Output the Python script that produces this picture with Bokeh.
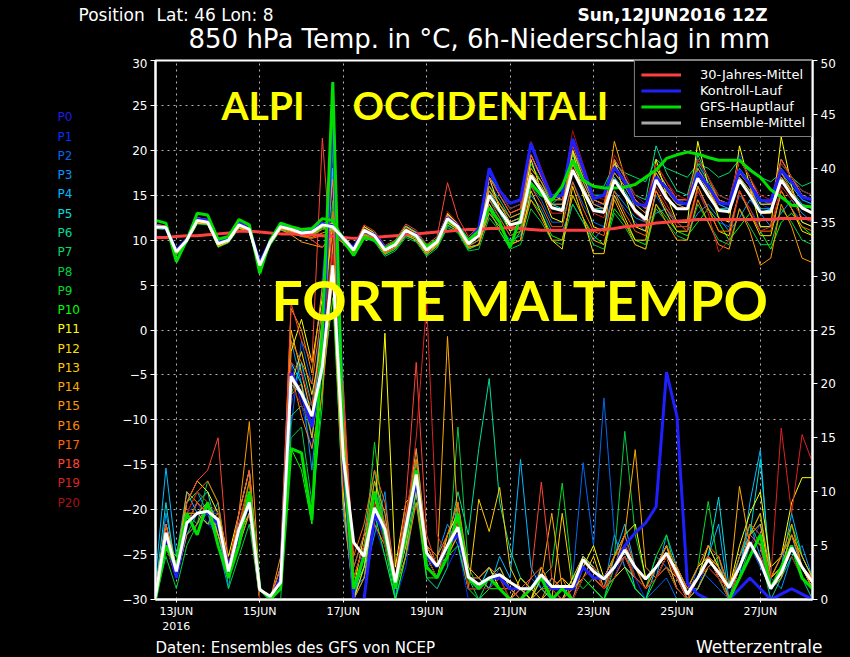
from bokeh.plotting import figure
from bokeh.layouts import column, row
from bokeh.models import Range1d, LinearAxis, FixedTicker, Label, Legend, LegendItem
from bokeh.embed import file_html
from bokeh.resources import INLINE

# ---------------- data ----------------
step_hours = 6
n_steps = 64
hours = [step_hours * i for i in range(n_steps)]          # from 12JUN2016 12Z
tick_hours = [12, 60, 108, 156, 204, 252, 300, 348]
tick_labels = ["13JUN\n2016", "15JUN", "17JUN", "19JUN", "21JUN", "23JUN", "25JUN", "27JUN"]
temp_ticks = [-30, -25, -20, -15, -10, -5, 0, 5, 10, 15, 20, 25, 30]
prec_ticks = [0, 5, 10, 15, 20, 25, 30, 35, 40, 45, 50]

member_names = ["P%d" % k for k in range(21)]
member_colors = ["#1e1ee6", "#0033ff", "#0066ee", "#0099ff", "#00bbff", "#00dddd", "#00dd99",
                 "#00dd66", "#00cc44", "#00dd22", "#00ff00", "#ffff00", "#ffdd00", "#ffcc00",
                 "#ffaa00", "#ff9900", "#ff8800", "#ff6600", "#ff4433", "#dd2222", "#aa1111"]

temp_clim = [10.3,10.3,10.4,10.5,10.5,10.6,10.7,10.8,11.0,11.0,
             10.9,10.8,10.7,10.7,10.6,10.6,10.5,10.4,10.3,10.2,
             10.2,10.3,10.4,10.5,10.6,10.7,10.8,10.9,11.0,11.1,
             11.2,11.2,11.3,11.3,11.4,11.3,11.2,11.1,11.1,11.1,
             11.1,11.1,11.1,11.2,11.3,11.5,11.6,11.7,11.9,12.0,
             12.1,12.2,12.3,12.3,12.3,12.3,12.3,12.3,12.3,12.3,
             12.4,12.4,12.4,12.4]
temp_mean = [11.5,11.4,8.7,10.0,12.2,12.0,9.6,10.0,11.7,11.2,7.2,9.8,11.5,11.2,10.8,10.9,11.7,
             11.5,10.2,8.9,11.1,10.5,8.9,9.5,11.1,10.5,8.9,9.8,12.4,11.5,9.6,
             10.5,15.0,13.3,11.7,12.0,17.2,15.5,13.6,13.3,17.8,15.5,13.3,13.1,16.7,15.0,13.3,12.3,
             16.7,14.7,13.5,13.5,16.9,15.0,13.3,13.2,16.7,15.0,13.1,13.2,16.7,15.0,13.6,13.0]
temp_ctrl = [11.6,11.3,8.9,10.1,12.4,12.2,9.8,10.1,11.9,11.3,7.5,9.9,11.6,11.3,10.9,11.0,11.9,
             11.6,10.0,9.2,11.0,10.6,9.2,9.6,11.0,10.6,9.0,10.0,12.5,11.6,10.0,
             11.3,18.0,15.5,14.1,14.5,20.8,17.5,14.8,15.0,21.3,18.0,14.6,15.0,18.1,16.5,14.1,13.8,
             17.0,15.8,14.3,14.0,17.5,16.0,14.2,14.0,17.8,16.2,14.4,14.3,17.8,16.5,14.8,14.5]
temp_gfs = [12.2,11.9,7.6,10.0,13.0,12.8,10.1,10.4,12.3,11.7,6.3,10.0,11.9,11.5,11.2,11.3,12.4,
            12.2,10.0,8.3,10.3,10.0,9.1,9.8,11.1,10.4,9.3,10.0,12.2,11.5,10.0,
            11.0,13.6,12.0,9.2,12.5,16.3,15.0,14.4,16.0,18.9,16.7,16.0,15.8,15.8,15.9,16.2,17.0,
            17.8,19.1,19.5,19.8,19.6,19.2,18.9,18.9,18.9,17.8,17.0,15.6,14.8,13.9,13.8,13.7]

temp_p0 = [11.6,11.3,8.8,10.1,12.3,12.1,9.7,10.1,11.8,11.2,7.4,9.9,11.6,11.2,10.9,11.0,11.8,
           11.6,10.3,9.0,11.3,10.7,9.1,9.6,11.3,10.6,9.2,10.0,12.8,11.6,9.8,
           11.0,16.5,14.5,12.5,13.0,19.0,17.0,14.5,14.5,20.0,17.0,14.0,14.0,18.5,16.5,14.0,13.0,
           17.0,15.5,14.0,14.0,18.5,16.0,14.0,13.5,18.0,16.0,14.0,13.5,17.5,16.0,14.5,14.0]
temp_p1 = [11.4,11.5,8.6,9.9,12.1,12.0,9.5,10.0,11.6,11.1,7.1,9.7,11.4,11.1,10.7,10.9,11.6,
           11.4,10.2,8.8,11.0,10.4,8.8,9.4,11.0,10.4,8.8,9.7,12.3,11.4,9.5,
           11.5,17.5,15.0,13.5,14.0,20.5,17.5,15.0,15.5,21.0,17.5,15.0,15.0,19.0,17.0,14.5,13.5,
           18.0,16.0,14.5,14.5,19.0,16.5,14.5,14.0,19.5,17.0,14.5,14.5,19.0,17.0,15.5,15.0]
temp_p2 = [11.5,11.4,8.5,10.0,12.0,11.9,9.4,9.9,11.5,11.0,7.0,9.6,11.3,11.0,10.6,10.7,11.5,
           11.3,10.0,8.7,10.8,10.3,8.6,9.2,10.8,10.2,8.6,9.5,12.0,11.2,9.3,
           10.0,14.0,12.5,10.5,11.0,16.0,14.5,12.0,12.0,16.5,14.0,12.0,11.5,15.0,13.5,12.0,11.0,
           15.0,13.0,12.0,12.0,15.5,13.5,12.0,11.5,15.0,13.5,11.5,11.5,15.0,13.5,12.0,11.5]
temp_p3 = [11.3,11.2,8.4,9.8,11.9,11.8,9.3,9.8,11.4,10.9,6.9,9.5,11.2,10.9,10.5,10.6,11.4,
           11.2,9.8,8.5,10.6,10.0,8.4,9.0,10.5,10.0,8.4,9.3,11.6,11.0,9.0,
           9.5,13.0,11.5,10.0,10.5,15.0,13.5,11.0,11.0,14.0,12.0,10.0,11.5,15.5,14.0,12.5,12.0,
           13.0,13.5,12.0,11.0,13.0,14.0,12.5,11.0,12.5,14.5,13.0,11.5,13.0,14.5,13.0,12.0]
temp_p4 = [11.6,11.5,8.8,10.1,12.3,12.1,9.7,10.1,11.7,11.2,7.3,9.8,11.6,11.3,10.9,11.0,11.7,
           11.6,10.3,9.1,11.2,10.6,9.0,9.6,11.2,10.6,9.0,9.9,12.6,11.6,9.7,
           11.0,16.0,14.0,12.0,12.5,18.0,16.5,14.0,14.0,19.0,16.5,14.0,13.5,17.5,16.0,14.0,13.0,
           17.5,15.5,14.0,14.0,18.0,16.0,14.0,13.5,17.5,16.0,13.5,13.5,17.5,16.0,14.5,14.0]
temp_p5 = [11.7,11.6,8.9,10.2,12.5,12.3,9.8,10.2,12.0,11.4,7.5,10.0,11.7,11.4,11.0,11.1,11.9,
           11.7,10.5,9.2,11.5,10.8,9.3,9.8,11.6,10.9,9.3,10.2,12.9,11.8,10.0,
           11.0,15.5,13.5,12.0,12.5,17.5,16.0,14.0,13.5,18.5,16.0,13.5,13.5,17.0,15.5,13.5,12.5,
           17.0,15.0,13.5,13.5,17.5,15.5,13.5,13.5,17.0,15.5,13.0,13.5,17.0,15.5,14.0,13.5]
temp_p6 = [11.5,11.3,8.6,10.0,12.2,12.0,9.6,10.0,11.7,11.1,7.2,9.8,11.5,11.2,10.8,10.9,11.7,
           11.5,10.2,9.0,11.1,10.5,8.9,9.5,11.1,10.5,8.9,9.8,12.4,11.5,9.6,
           11.5,17.0,15.5,13.5,14.0,19.5,17.0,15.0,15.0,20.0,17.5,15.0,15.0,19.0,17.0,15.0,14.5,
           20.5,17.5,15.5,15.0,19.5,17.0,15.0,14.5,19.0,17.0,14.5,14.0,18.5,17.0,15.5,15.0]
temp_p7 = [11.4,11.4,8.6,9.9,12.1,11.9,9.5,9.9,11.6,11.1,7.1,9.7,11.4,11.1,10.7,10.8,11.6,
           11.4,10.0,8.8,10.9,10.4,8.8,9.4,10.9,10.4,8.8,9.7,12.2,11.4,9.4,
           10.0,14.5,13.0,11.0,11.5,16.5,15.0,14.0,15.0,17.5,16.5,16.0,16.0,18.5,17.5,17.0,16.5,
           19.0,18.0,17.5,17.0,18.5,18.0,17.0,17.5,19.0,18.0,17.0,16.5,17.5,17.0,16.0,16.5]
temp_p8 = [11.3,11.2,8.3,9.7,11.8,11.7,9.2,9.7,11.3,10.8,6.8,9.4,11.1,10.8,10.4,10.5,11.3,
           11.1,9.6,8.3,10.4,9.8,8.2,8.8,10.3,9.8,8.2,9.1,11.4,10.8,8.8,
           9.0,12.5,11.0,9.0,9.5,13.5,12.0,10.0,9.5,14.0,12.0,9.5,9.0,13.0,11.5,9.5,9.0,
           13.5,12.0,10.5,10.0,14.0,12.0,10.0,9.5,13.5,11.5,9.5,9.5,13.5,12.0,10.0,9.5]
temp_p9 = [11.6,11.5,8.7,10.1,12.3,12.1,9.7,10.1,11.8,11.3,7.3,9.9,11.6,11.3,10.9,11.0,11.8,
           11.6,10.3,9.0,11.2,10.6,9.0,9.6,11.2,10.6,9.0,9.9,12.6,11.6,9.7,
           11.0,16.0,14.5,12.5,13.0,18.5,16.5,14.5,14.5,19.5,17.0,14.5,14.0,18.0,16.5,14.5,13.5,
           18.0,16.0,14.5,14.0,18.5,16.5,14.5,14.0,18.0,16.5,14.0,14.0,18.0,16.5,15.0,14.5]
temp_p10 = [11.4,11.2,8.4,9.8,11.9,11.8,9.3,9.8,11.4,10.9,6.9,9.5,11.2,10.9,10.5,10.6,11.4,
            11.2,9.8,8.5,10.6,10.0,8.4,9.0,10.5,10.0,8.4,9.3,11.7,11.0,9.0,
            9.5,13.5,11.0,9.2,11.0,14.5,13.0,10.5,10.0,15.0,12.5,10.5,9.5,13.5,12.0,10.0,9.5,
            14.0,12.5,11.0,10.5,12.0,13.5,12.0,10.0,11.5,13.0,11.0,9.0,12.0,13.0,11.5,10.5]
temp_p11 = [11.7,11.6,8.9,10.2,12.5,12.2,9.8,10.2,12.0,11.4,7.5,10.0,11.8,11.5,11.1,11.2,12.0,
            11.8,10.4,9.1,11.5,10.8,9.2,9.8,11.5,10.8,9.2,10.2,13.0,11.8,9.8,
            10.5,17.0,13.5,11.0,12.0,19.0,15.5,12.5,12.0,20.0,15.0,11.5,11.0,19.0,15.0,11.5,11.0,
            19.0,15.0,12.0,12.0,21.0,16.0,12.5,12.0,20.5,16.0,11.5,11.5,21.5,16.0,12.0,11.5]
temp_p12 = [11.3,11.3,8.5,9.8,11.9,11.8,9.3,9.8,11.4,10.9,6.9,9.6,11.3,11.0,10.6,10.7,11.5,
            11.3,9.9,8.6,10.7,10.2,8.6,9.2,10.7,10.2,8.6,9.5,11.9,11.2,9.2,
            9.5,14.0,12.0,9.5,10.0,15.5,13.0,10.0,9.0,16.0,12.5,8.5,8.5,15.0,12.5,10.0,10.0,
            15.5,13.0,11.0,11.0,16.0,13.5,11.0,10.5,15.5,13.0,10.5,10.5,15.5,13.5,11.0,10.5]
temp_p13 = [11.6,11.4,8.8,10.1,12.4,12.2,9.7,10.1,11.9,11.3,7.4,9.9,11.7,11.4,11.0,11.1,11.9,
            11.7,10.4,9.1,11.3,10.7,9.1,9.7,11.4,10.8,9.2,10.1,12.9,11.8,9.8,
            11.0,17.0,15.0,13.0,13.5,19.5,17.0,15.0,14.5,20.0,17.0,14.5,14.0,18.5,16.5,14.5,13.5,
            18.0,16.0,14.5,14.5,19.0,17.0,14.5,14.0,19.0,17.0,14.0,14.0,19.0,17.0,15.0,14.5]
temp_p14 = [11.5,11.4,8.6,10.0,12.2,12.0,9.6,10.0,11.7,11.2,7.2,9.8,11.5,11.0,10.5,10.3,10.8,
            11.2,10.0,8.9,11.0,10.5,8.9,9.5,11.1,10.6,9.0,9.9,12.7,11.6,9.6,
            10.5,15.5,14.0,12.0,12.5,17.5,16.0,13.5,13.5,18.5,16.0,13.5,13.0,21.0,17.0,13.5,12.5,
            17.0,15.0,13.5,13.5,17.5,15.5,13.5,13.0,17.0,15.5,13.0,13.0,17.0,15.5,13.5,13.0]
temp_p15 = [11.4,11.3,8.5,9.9,12.0,11.8,9.4,9.9,11.5,11.0,7.0,9.6,11.2,10.6,9.8,9.5,9.2,
            10.5,9.7,8.5,10.5,10.0,8.5,9.2,10.6,10.0,8.4,9.4,12.0,11.1,9.2,
            9.5,13.0,11.5,9.5,10.0,14.5,12.5,10.0,10.0,15.0,12.5,10.0,9.5,14.5,12.0,9.5,9.0,
            14.0,12.0,10.0,10.0,14.5,12.0,9.5,9.0,13.5,11.0,7.2,8.0,14.0,11.5,8.0,7.5]
temp_p16 = [11.6,11.5,8.7,10.1,12.3,12.1,9.7,10.1,11.8,11.2,7.3,9.9,11.6,11.1,10.6,10.5,11.2,
            11.4,10.2,9.0,11.2,10.7,9.1,9.7,11.3,10.7,9.1,10.0,12.8,11.7,9.8,
            11.0,16.0,14.0,12.5,13.0,18.0,16.5,14.0,14.0,19.0,16.5,14.0,13.5,17.5,16.0,14.0,13.0,
            17.5,15.5,14.0,13.5,18.0,16.0,13.5,13.0,17.5,16.0,13.0,13.0,17.5,15.5,13.5,13.0]
temp_p17 = [11.4,11.3,8.5,9.9,12.0,11.9,9.4,9.9,11.5,11.0,7.0,9.7,11.3,10.9,10.4,10.2,10.5,
            11.0,9.8,8.7,10.7,10.2,8.6,9.2,10.8,10.3,8.7,9.6,12.1,11.3,9.3,
            10.0,14.5,12.5,10.5,11.0,16.0,14.0,11.5,11.5,16.5,13.5,11.0,10.5,15.5,13.0,11.0,10.5,
            15.5,13.5,11.5,11.5,16.0,13.5,11.0,11.0,15.5,13.0,11.0,11.0,15.5,13.5,11.5,11.0]
temp_p18 = [11.7,11.6,8.9,10.3,12.5,12.3,9.9,10.3,12.0,11.5,7.6,10.1,11.8,11.4,10.8,10.0,9.2,
            10.8,10.3,9.3,11.7,11.0,9.4,10.0,11.8,11.1,9.5,10.4,16.4,12.5,10.4,
            11.5,17.0,15.0,13.0,13.5,19.5,17.0,14.5,14.5,20.5,17.5,14.5,14.0,19.0,17.0,14.5,13.5,
            18.5,16.5,14.5,14.5,19.0,17.0,14.5,14.0,19.0,17.0,14.5,14.0,19.0,17.0,15.0,14.5]
temp_p19 = [11.5,11.4,8.6,10.0,12.1,12.0,9.5,10.0,11.6,11.1,7.1,9.8,11.4,11.1,10.7,10.8,11.6,
            11.4,10.0,8.9,11.0,10.4,8.8,9.4,11.0,10.4,8.8,9.7,12.3,11.4,9.5,
            10.5,15.0,13.5,11.5,12.0,17.0,15.5,13.0,13.0,18.0,15.5,13.0,12.5,16.5,15.0,13.0,12.0,
            16.0,14.0,12.0,11.0,15.5,13.0,8.7,10.0,15.5,13.5,11.0,11.5,16.0,14.5,12.5,12.0]
temp_p20 = [11.6,11.5,8.8,10.2,12.4,12.2,9.8,10.2,11.9,11.4,7.5,10.0,11.7,11.3,10.9,11.0,11.8,
            11.6,10.2,9.1,11.3,10.7,9.1,9.7,11.4,10.7,9.1,10.0,13.2,11.9,9.9,
            11.5,18.0,15.5,13.5,14.0,21.0,18.0,15.0,15.0,22.2,18.5,15.0,14.5,19.5,17.5,15.0,14.0,
            18.5,16.5,15.0,14.5,19.0,17.0,15.0,14.5,19.0,17.0,15.0,14.5,18.5,17.0,15.5,15.0]

prec_mean = [0.3,6.2,2.6,7.1,8.0,8.2,7.4,2.6,6.5,9.0,
             0.9,0.3,1.6,20.7,19.1,17.0,21.6,31.0,13.3,5.3,
             4.0,8.5,6.5,1.6,6.6,11.6,4.3,3.1,5.0,6.7,
             2.1,1.4,2.0,2.3,1.6,1.0,1.0,2.3,1.2,1.2,
             1.2,3.7,2.6,1.9,3.0,4.6,3.0,1.9,3.0,4.3,
             2.5,0.5,2.0,3.7,2.5,1.1,3.0,5.3,3.5,1.0,
             2.5,4.8,3.0,1.6]
prec_ctrl = [0,6,2,7,8,8,7,3,6,9,1,0,2, 21,19,16,22,
             45.8,13,0,0,8,6,1,6,11,4,3,5,6,2,
             1,2,2,1,1,1,2,1,1,1,3,2,2,3,5,6.2,7.1,
             8.6,21.1,17.0,1.5,0.5,0,0,0,1,2,1,0,0.5,1,0.5,0]
prec_gfs = [0,5,3,8,6,9,5,2,5,10,1,0,1, 14,13.6,7.4,25,
            48,14,1,4,10,6,1,6,12,3,2,4,8,2,
            1,2,1,0,0,1,2,0,1,0,0,0,0,0,0,0,0,
            0,0,0,0,0,0,0,0,2,4,6,1,3,5,2,1]

prec_p0 = [0,5,2,8,9,7,6,2,7,10,1,0,2, 18,22,15,24, 38,12,0,3,9,5,1,5,12,3,2,4,6,1,
           1,2,1,0,0,1,3,1,0,0,4,3,1,2,5,2,1, 2,4,1,0,2,5,3,1,3,6,5,0,2,5,3,1]
prec_p1 = [1,6,3,7,8,9,7,3,6,9,0,0,1, 22,18,14,30, 40,20,0,0,7,4,0,3,10,2,1,3,5,0,
           0,1,2,0,1,0,2,0,1,0,3,2,1,4,6,2,0, 3,5,2,0,1,4,2,0,2,5,7,1,3,6,2,0]
prec_p2 = [0,7,2,6,7,8,8,2,5,8,1,0,1, 16,24,20,20, 35,15,0,5,10,8,2,7,14,5,3,6,8,2,
           2,1,3,1,0,2,1,0,0,2,12.7,5,18.7,6,3,1,0, 1,2,0,0,3,2,1,0,4,5,3,1,2,4,2,1]
prec_p3 = [0,8,3,9,10,8,5,1,8,12,1,0,3, 24,20,12,22, 30,8,1,2,6,10,0,8,10,3,4,7,5,1,
           1,3,2,1,0,0,1,2,1,0,2,3,1,6,3,2,1, 4,3,2,1,1,3,4,0,3,7,4,2,1,4,5,2]
prec_p4 = [2,12.2,4,10,8,7,9,3,6,10,0,0,2, 20,19,18,26, 36,10,0,4,8,6,1,6,11,4,2,5,7,3,
           2,1,4,2,13,3,1,0,1,1,3,2,2,4,7,3,1, 2,6,3,1,2,4,7,0,2,9,13.9,1,3,8,4,2]
prec_p5 = [1,9,2,7,9,10,6,2,7,9,1,0,1, 22,20,16,25, 40,14,0,2,9,7,1,5,13,5,3,4,9,2,
           1,3,1,0,1,0,2,1,0,1,4,3,2,3,5,1,0, 3,5,2,1,2,4,9.5,1,4,6,13,2,4,6,3,1]
prec_p6 = [0,6,3,8,7,9,8,3,6,10,0,0,2, 19,22,18,23, 33,16,3,6,12,6,2,6,11,4,3,5,10,6,
           14,20.5,9,4.6,2,1,0,0,1,0,2,1,0,3,4,2,1, 2,3,1,0,1,3,2,0,3,5,4,1,2,5,3,1]
prec_p7 = [1,5,2,6,8,7,7,2,5,8,1,0,1, 17,18,16,21, 42,13,1,3,10,5,0,4,12,3,2,5,6,2,
           0,2,1,0,0,1,2,1,0,2,3,2,1,2,4,2,1, 2,4,3,0,2,5,3,1,2,4,6,1,3,5,2,1]
prec_p8 = [0,4,1,5,7,11,9,1,4,7,0,0,0, 15,16,9,18, 44,18,2,5,11,7,1,6,9,2,1,3,16,3,
           1,2,2,1,0,0,1,0,1,0,2,1,0,4,15.6,6,2, 3,5,2,0,1,3,2,0,2,5,4,0,2,4,2,0]
prec_p9 = [1,6,2,7,8,8,6,3,7,9,1,0,2, 21,19,15,22, 37,12,1,4,14.6,6,2,7,13,4,3,5,7,2,
           1,2,3,1,1,0,2,3,10.8,2,1,2,1,3,5,2,1, 4,6,2,1,3,9.1,3,1,4,7,5,1,3,6,3,1]
prec_p10 = [0,5,4,9,10,9,7,2,6,11,1,0,1, 14,12,7,20, 28,9,0,3,8,4,0,4,10,2,2,4,5,1,
            0,1,1,0,0,1,0,0,0,1,2,1,0,2,3,1,0, 2,3,1,0,2,4,2,0,3,6,8,1,2,7,4,2]
prec_p11 = [1,7,3,9,11,10,8,4,8,12,1,0,3, 23,26,22,28, 34,10,1,6,7,24.7,3,9,10,4,2,6,8,3,
            2,3,1,0,2,1,0,1,2,1,3,5,2,4,6,7,2, 3,5,2,1,3,4,2,1,5,8,10,3,4,9,11.3,11.3]
prec_p12 = [0,6,2,7,9,8,7,2,6,8,0,0,1, 20,23,19,24, 31,11,0,3,8,6,1,5,11,4,3,5,7,2,
            1,2,1,0,1,0,3,1,0,2,4,3,1,3,5,3,1, 2,4,3,1,2,5,3,1,3,6,5,2,3,5,3,1]
prec_p13 = [1,5,3,8,8,9,6,3,7,10,1,0,2, 25,21,17,26, 35,13,2,5,9,7,2,6,10,3,2,4,6,1,
            9.3,6.3,10.4,3,1,0,2,0,8,1,2,4,1,2,3,2,1, 3,4,1,0,2,3,2,1,3,6,7,2,3,5,2,1]
prec_p14 = [0,6,2,7,8,7,8,2,6,9,1,0,1, 19,20,15,22, 33,12,1,4,8,6,2,5,12,5,3,24.4,7,2,
            1,2,3,1,0,1,2,8,1,1,3,2,1,3,6,13.9,3, 2,3,2,1,2,4,3,1,10.5,5,4,1,3,6,4,2]
prec_p15 = [1,7,3,10,9,8,6,3,8,16.5,1,0,4, 27,25,21,29, 39,17,2,5,11,8,1,7,14,5,4,6,9,3,
            2,1,2,0,1,1,0,2,1,1,2,3,1,4,5,3,2, 3,5,2,0,1,3,4,1,3,6,8,2,4,7,3,2]
prec_p16 = [0,5,2,6,7,9,7,2,5,8,0,0,1, 21,17,14,19, 30,9,0,2,7,5,1,4,9,3,2,4,6,1,
            1,2,1,1,0,0,1,1,2,0,3,2,1,3,4,2,1, 2,4,2,1,2,4,3,0,3,5,4,1,2,5,3,1]
prec_p17 = [0,6,3,8,10,11,9,3,7,11,1,0,2, 24,22,20,27, 36,18,4,7,12,9,2,8,13,5,3,6,9,2,
            2,3,2,1,1,2,3,1,0,1,3,2,2,4,6,3,1, 3,5,3,1,3,5,4,1,4,7,6,2,4,6,3,1]
prec_p18 = [0,7,2,9,11,12,15,3,8,12,1,0,3, 27.5,24,22,42.8, 30,20,3,6,10,7,2,9,22,6,3,5,8,2,
            1,2,2,1,0,2,10.9,2,1,0,2,3,1,3,4,2,1, 2,4,2,0,2,3,2,1,3,6,5,1,3,5,3,2]
prec_p19 = [1,6,3,7,9,8,7,2,7,10,1,0,2, 22,21,18,24, 32,14,2,5,9,6,1,7,15,27.5,6,4,7,2,
            1,2,1,0,1,1,2,1,0,1,3,2,1,2,4,2,1, 2,3,1,0,2,4,2,0,3,5,6,2,15.9,8,15.3,12.7]
prec_p20 = [0,5,2,8,10,9,8,2,6,9,0,0,1, 20,18,16,23, 34,11,1,4,9,5,1,6,11,4,2,5,6,1,
            1,1,2,0,0,1,2,1,1,0,2,3,1,3,5,2,1, 2,4,2,1,2,3,2,1,3,5,4,1,3,4,2,1]

temp_members = [temp_p0, temp_p1, temp_p2, temp_p3, temp_p4, temp_p5, temp_p6, temp_p7,
                temp_p8, temp_p9, temp_p10, temp_p11, temp_p12, temp_p13, temp_p14, temp_p15,
                temp_p16, temp_p17, temp_p18, temp_p19, temp_p20]
prec_members = [prec_p0, prec_p1, prec_p2, prec_p3, prec_p4, prec_p5, prec_p6, prec_p7,
                prec_p8, prec_p9, prec_p10, prec_p11, prec_p12, prec_p13, prec_p14, prec_p15,
                prec_p16, prec_p17, prec_p18, prec_p19, prec_p20]

# ---------------- layout geometry (page pixels) ----------------
FONT = "DejaVu Sans"
PAGE_W, PAGE_H = 850, 657
TOP_H = 58            # header strip
LEFT_W = 100          # member-name strip
MAIN_W = PAGE_W - LEFT_W
BORDER_T, BORDER_B = 2, 36
MAIN_H = BORDER_T + 540 + BORDER_B
BOT_H = PAGE_H - TOP_H - MAIN_H


def blank(w, h, y0, y1, top=0, bottom=0):
    f = figure(width=w, height=h, x_range=Range1d(0, w), y_range=Range1d(y1, y0),
               output_backend="svg", toolbar_location=None,
               min_border_left=0, min_border_right=0,
               min_border_top=top, min_border_bottom=bottom,
               x_axis_location=None, y_axis_location=None,
               background_fill_color="black", border_fill_color="black",
               outline_line_color=None)
    f.grid.visible = False
    return f


def put(f, t, x, y, size, color="white", align="left", font=FONT, style="normal"):
    f.add_layout(Label(x=x, y=y, text=t, text_font=font, text_font_size="%dpx" % size,
                       text_color=color, text_align=align, text_baseline="middle",
                       text_font_style=style))


# header (coordinates = page pixels)
top = blank(PAGE_W, TOP_H, 0, TOP_H)
put(top, "Position", 78, 14, 17)
put(top, "Lat: 46 Lon: 8", 156, 14, 17)
put(top, "Sun,12JUN2016 12Z", 577, 14, 17, style="bold")
put(top, "850 hPa Temp. in °C, 6h-Niederschlag in mm", 188, 38, 26)

# member names on the left; frame matches the chart frame (page y 60..600)
left = blank(LEFT_W, MAIN_H, 60, 600, top=BORDER_T, bottom=BORDER_B)
for k, (name, col) in enumerate(zip(member_names, member_colors)):
    put(left, name, 57, 117 + 19.3 * k, 12, color=col)

# footer (coordinates = page pixels)
bot = blank(PAGE_W, BOT_H, TOP_H + MAIN_H, PAGE_H)
put(bot, "Daten: Ensembles des GFS von NCEP", 155, 647, 15)
put(bot, "Wetterzentrale", 822, 646, 17, align="right")

# ---------------- main chart ----------------
p = figure(width=MAIN_W, height=MAIN_H, x_range=Range1d(0, 378), y_range=Range1d(-30, 30),
           output_backend="svg", toolbar_location=None,
           background_fill_color="black", border_fill_color="black",
           min_border_left=55, min_border_right=38, min_border_top=BORDER_T,
           min_border_bottom=BORDER_B,
           outline_line_color="white", outline_line_width=2)
p.extra_y_ranges = {"prec": Range1d(0, 50), "legend_proxy": Range1d(100, 200)}


def series(vals, **kw):
    n = min(len(vals), n_steps)
    return p.line(hours[:n], vals[:n], **kw)


for vals, col in zip(prec_members, member_colors):
    series(vals, color=col, line_width=1, y_range_name="prec")
for vals, col in zip(temp_members, member_colors):
    series(vals, color=col, line_width=1)

r_clim = series(temp_clim, color="#ff4040", line_width=3)
series(prec_ctrl, color="#2020ff", line_width=3, y_range_name="prec")
r_ctrl = series(temp_ctrl, color="#2020ff", line_width=3)
series(prec_gfs, color="#00e000", line_width=3, y_range_name="prec")
r_gfs = series(temp_gfs, color="#00e000", line_width=3)
series(prec_mean, color="white", line_width=3, y_range_name="prec")
series(temp_mean, color="white", line_width=3)
# grey legend swatch for the ensemble mean (drawn outside the visible range)
r_mean_legend = series(temp_mean, color="#a8a8a8", line_width=3, y_range_name="legend_proxy")

p.xaxis.ticker = FixedTicker(ticks=tick_hours)
p.xaxis.major_label_overrides = {h: lab for h, lab in zip(tick_hours, tick_labels)}
p.xgrid.ticker = FixedTicker(ticks=tick_hours)
p.yaxis.ticker = FixedTicker(ticks=temp_ticks)
p.ygrid.ticker = FixedTicker(ticks=temp_ticks)

right = LinearAxis(y_range_name="prec", ticker=FixedTicker(ticks=prec_ticks))
p.add_layout(right, "right")

for ax in [p.xaxis[0], p.yaxis[0], right]:
    ax.axis_line_color = "white"
    ax.axis_line_width = 2
    ax.major_tick_line_color = "white"
    ax.major_tick_out = 5
    ax.major_tick_in = 0
    ax.minor_tick_line_color = None
    ax.major_label_text_color = "white"
    ax.major_label_text_font = FONT
    ax.major_label_text_font_size = "12px"
    ax.major_label_standoff = 3
p.xaxis.major_tick_out = 3
p.xaxis.major_label_text_font_size = "11px"
p.xaxis.major_label_standoff = 2

for g in [p.xgrid[0], p.ygrid[0]]:
    g.grid_line_color = "#b4b4b4"
    g.grid_line_dash = "2 4"
    g.grid_line_width = 1

legend = Legend(items=[LegendItem(label="30-Jahres-Mittel", renderers=[r_clim]),
                       LegendItem(label="Kontroll-Lauf", renderers=[r_ctrl]),
                       LegendItem(label="GFS-Hauptlauf", renderers=[r_gfs]),
                       LegendItem(label="Ensemble-Mittel", renderers=[r_mean_legend])],
                location="top_right", margin=0, padding=6, spacing=1,
                glyph_width=40, glyph_height=13, label_height=13, label_width=105,
                label_standoff=19,
                background_fill_color="black", background_fill_alpha=1.0,
                border_line_color="white", border_line_width=1,
                label_text_color="white", label_text_font=FONT, label_text_font_size="13px")
p.add_layout(legend)


def overlay(t, X, Y, size):
    # position given in page pixels; the frame spans x 155..812, y 60..600
    p.add_layout(Label(x=X - 155, y=600 - Y, x_units="screen", y_units="screen", text=t,
                       text_font="Lato", text_font_size="%dpx" % size, text_color="#ffff00",
                       text_align="left", text_baseline="middle", text_font_style="bold"))


overlay("ALPI", 221, 105, 39)
overlay("OCCIDENTALI", 352, 105, 39)
overlay("FORTE MALTEMPO", 271, 300, 55)

layout = column(top, row(left, p), bot)
html = file_html(layout, INLINE)
html = html.replace("<head>", "<head><style>html, body { background: #000000; }</style>", 1)
open("out.html", "w").write(html)
